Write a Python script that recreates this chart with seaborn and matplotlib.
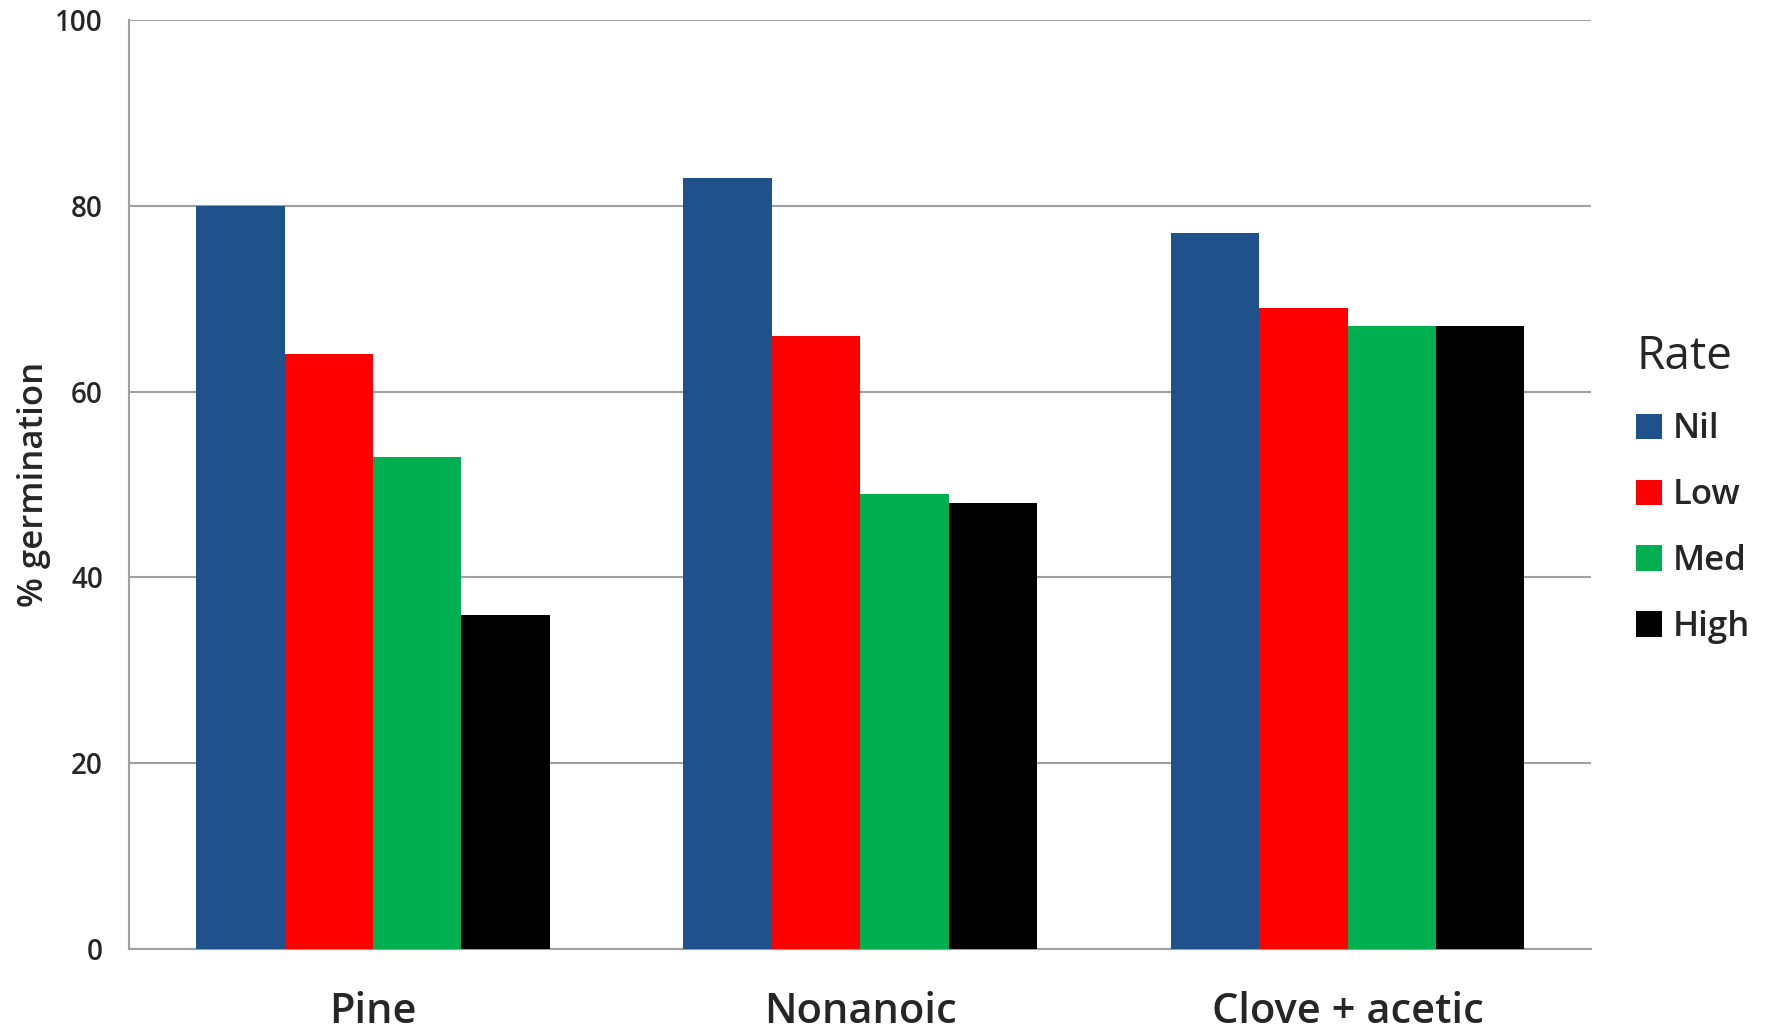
import matplotlib
matplotlib.use("Agg")
import matplotlib.pyplot as plt
import seaborn as sns
import pandas as pd

# germination data
products = ["Pine", "Nonanoic", "Clove + acetic"]
rates = ["Nil", "Low", "Med", "High"]
nil_vals = [80, 83, 77]
low_vals = [64, 66, 69]
med_vals = [53, 49, 67]
high_vals = [36, 48, 67]
rate_colors = ["#1F518B", "#FF0000", "#00B050", "#000000"]

df = pd.DataFrame({
    "Product": products * 4,
    "Rate": sum([[r] * 3 for r in rates], []),
    "germ": nil_vals + low_vals + med_vals + high_vals,
})

sns.set_style("white")
plt.rcParams["font.family"] = ["Open Sans", "DejaVu Sans"]

fig, ax = plt.subplots(figsize=(17.72, 10.33), dpi=100)
fig.subplots_adjust(left=0.073, right=0.898, top=0.981, bottom=0.081)

sns.barplot(data=df, x="Product", y="germ", hue="Rate", hue_order=rates,
            palette=rate_colors, saturation=1, width=0.726, gap=0,
            linewidth=0, errorbar=None, ax=ax, zorder=3)

grid_c = "#A0A0A0"
ax.set_ylim(0, 100)
ax.set_xlim(-0.5, 2.5)
ax.set_yticks(range(0, 101, 20))
ax.yaxis.grid(True, color=grid_c, linewidth=1.5, zorder=0)
ax.set_axisbelow(True)
for s in ["top", "right"]:
    ax.spines[s].set_visible(False)
for s in ["left", "bottom"]:
    ax.spines[s].set_color(grid_c)
    ax.spines[s].set_linewidth(1.5)

# Excel-style ticks at category boundaries
ax.set_xticks([-0.5, 0.5, 1.5, 2.5], minor=True)
ax.tick_params(axis="x", which="minor", length=15, width=1.5, color=grid_c, direction="out")
ax.tick_params(axis="x", which="major", length=0, pad=30, labelsize=30)
ax.tick_params(axis="y", length=9, width=1.5, color=grid_c, labelsize=20, pad=10)
for lab in ax.get_xticklabels():
    lab.set_fontweight("semibold")
for lab in ax.get_yticklabels():
    lab.set_fontweight("semibold")

ax.set_xlabel("")
ax.set_ylabel("% germination", fontsize=25, fontweight="semibold", labelpad=3)

leg = ax.legend(title="Rate", loc="upper left", bbox_to_anchor=(1.019, 0.68),
                frameon=False, borderpad=0, handlelength=0.75, handleheight=0.75,
                handletextpad=0.3, labelspacing=0.92, fontsize=25,
                title_fontsize=33, alignment="left")
for t in leg.get_texts():
    t.set_fontweight("semibold")

fig.savefig("out.png", dpi=100)
